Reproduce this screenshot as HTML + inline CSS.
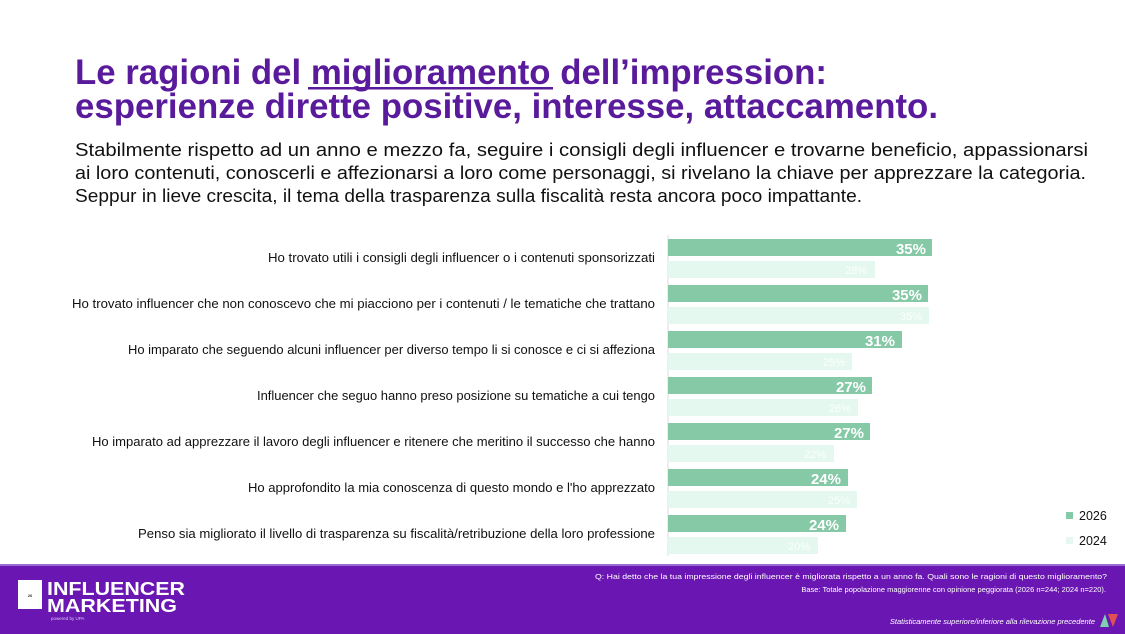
<!DOCTYPE html>
<html><head><meta charset="utf-8"><style>
html,body{margin:0;padding:0;background:#fff}
svg{display:block}
</style></head><body>
<svg width="1125" height="634" viewBox="0 0 1125 634" xmlns="http://www.w3.org/2000/svg" font-family="Liberation Sans, DejaVu Sans, sans-serif">
<rect width="1125" height="634" fill="#fff"/>
<g fill="#5a1a9c" font-weight="bold" font-size="35">
<text x="75" y="84" textLength="752" lengthAdjust="spacingAndGlyphs">Le ragioni del miglioramento dell’impression:</text>
<text x="75" y="118" textLength="863" lengthAdjust="spacingAndGlyphs">esperienze dirette positive, interesse, attaccamento.</text>
</g>
<rect x="308" y="87" width="245" height="2.5" fill="#5a1a9c"/>
<g fill="#111" font-size="18.5">
<text x="75" y="156" textLength="1013" lengthAdjust="spacingAndGlyphs">Stabilmente rispetto ad un anno e mezzo fa, seguire i consigli degli influencer e trovarne beneficio, appassionarsi</text>
<text x="75" y="179" textLength="1011" lengthAdjust="spacingAndGlyphs">ai loro contenuti, conoscerli e affezionarsi a loro come personaggi, si rivelano la chiave per apprezzare la categoria.</text>
<text x="75" y="202" textLength="787" lengthAdjust="spacingAndGlyphs">Seppur in lieve crescita, il tema della trasparenza sulla fiscalità resta ancora poco impattante.</text>
</g>
<g fill="#111" font-size="12.5" text-anchor="end">
<text x="655" y="262" textLength="387" lengthAdjust="spacingAndGlyphs">Ho trovato utili i consigli degli influencer o i contenuti sponsorizzati</text>
<text x="655" y="308" textLength="583" lengthAdjust="spacingAndGlyphs">Ho trovato influencer che non conoscevo che mi piacciono per i contenuti / le tematiche che trattano</text>
<text x="655" y="354" textLength="527" lengthAdjust="spacingAndGlyphs">Ho imparato che seguendo alcuni influencer per diverso tempo li si conosce e ci si affeziona</text>
<text x="655" y="400" textLength="398" lengthAdjust="spacingAndGlyphs">Influencer che seguo hanno preso posizione su tematiche a cui tengo</text>
<text x="655" y="446" textLength="563" lengthAdjust="spacingAndGlyphs">Ho imparato ad apprezzare il lavoro degli influencer e ritenere che meritino il successo che hanno</text>
<text x="655" y="492" textLength="407" lengthAdjust="spacingAndGlyphs">Ho approfondito la mia conoscenza di questo mondo e l'ho apprezzato</text>
<text x="655" y="538" textLength="517" lengthAdjust="spacingAndGlyphs">Penso sia migliorato il livello di trasparenza su fiscalità/retribuzione della loro professione</text>
</g>
<line x1="668" y1="235" x2="668" y2="556" stroke="#ddd" stroke-width="1"/>
<g fill="#85c9a6">
<rect x="668" y="239" width="264" height="17"/>
<rect x="668" y="285" width="260" height="17"/>
<rect x="668" y="331" width="234" height="17"/>
<rect x="668" y="377" width="204" height="17"/>
<rect x="668" y="423" width="202" height="17"/>
<rect x="668" y="469" width="180" height="17"/>
<rect x="668" y="515" width="178" height="17"/>
</g>
<g fill="#e4f8f0">
<rect x="668" y="261" width="207" height="17"/>
<rect x="668" y="307" width="261" height="17"/>
<rect x="668" y="353" width="184" height="17"/>
<rect x="668" y="399" width="190" height="17"/>
<rect x="668" y="445" width="166" height="17"/>
<rect x="668" y="491" width="189" height="17"/>
<rect x="668" y="537" width="150" height="17"/>
</g>
<g fill="#fff" font-weight="bold" font-size="15" text-anchor="end">
<text x="926" y="254">35%</text>
<text x="922" y="300">35%</text>
<text x="895" y="346">31%</text>
<text x="866" y="392">27%</text>
<text x="864" y="438">27%</text>
<text x="841" y="484">24%</text>
<text x="839" y="530">24%</text>
</g>
<g fill="#fff" font-size="11" text-anchor="end" opacity="0.9">
<text x="867" y="274">28%</text>
<text x="922" y="320">35%</text>
<text x="845" y="366">25%</text>
<text x="851" y="412">26%</text>
<text x="826" y="458">22%</text>
<text x="850" y="504">25%</text>
<text x="810" y="550">20%</text>
</g>
<rect x="1066" y="512" width="7" height="7" fill="#85c9a6"/>
<rect x="1066" y="537" width="7" height="7" fill="#e4f8f0"/>
<g fill="#111" font-size="12.5"><text x="1079" y="520">2026</text><text x="1079" y="545">2024</text></g>
<rect x="0" y="566" width="1125" height="68" fill="#6a16b2"/>
<rect x="0" y="564" width="1125" height="2" fill="#9a6ad0"/>
<rect x="18" y="580" width="24" height="29" fill="#fff"/>
<text x="30" y="597" font-size="4" fill="#333" text-anchor="middle" font-weight="bold">26</text>
<g fill="#fff" font-weight="bold" font-size="18">
<text x="47" y="595" textLength="138" lengthAdjust="spacingAndGlyphs">INFLUENCER</text>
<text x="47" y="612" textLength="130" lengthAdjust="spacingAndGlyphs">MARKETING</text>
</g>
<text x="51" y="620" font-size="4.5" fill="#d9c8f0">powered by UPA</text>
<text x="595" y="579" font-size="7.5" fill="#fff" textLength="512" lengthAdjust="spacingAndGlyphs">Q: Hai detto che la tua impressione degli influencer è migliorata rispetto a un anno fa. Quali sono le ragioni di questo miglioramento?</text>
<g fill="#fff" font-size="7.5" text-anchor="end">
<text x="1106" y="592">Base: Totale popolazione maggiorenne con opinione peggiorata (2026 n=244; 2024 n=220).</text>
<text x="1095" y="624" font-style="italic">Statisticamente superiore/inferiore alla rilevazione precedente</text>
</g>
<polygon points="1100,627 1105,614 1109,627" fill="#7fd0b0"/>
<polygon points="1108,614 1118,614 1113,627" fill="#e05050"/>
</svg>
</body></html>
